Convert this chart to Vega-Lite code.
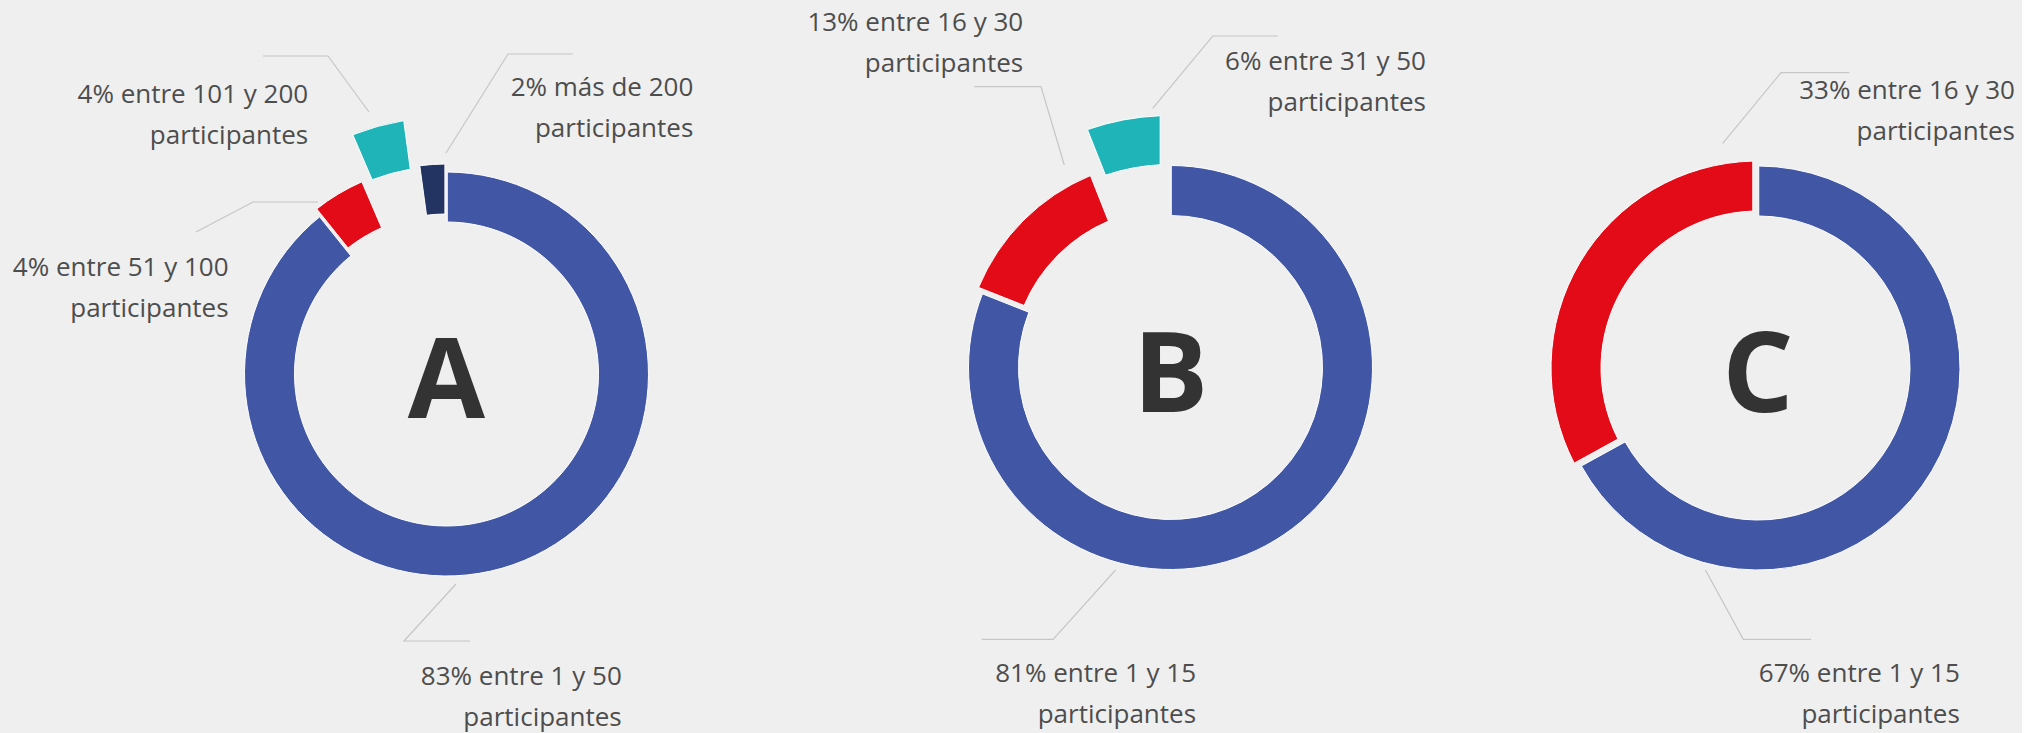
{
  "$schema": "https://vega.github.io/schema/vega-lite/v6.json",
  "background": "#efefef",
  "padding": {"left": 12, "top": 0, "right": 0, "bottom": 0},
  "spacing": 0,
  "bounds": "flush",
  "config": {"view": {"stroke": null}, "font": "Open Sans"},
  "data": {"values": [
    {"grupo": "A", "rango": "entre 1 y 50", "valor": 83, "etiqueta": "83%  entre 1 y 50\nparticipantes"},
    {"grupo": "A", "rango": "entre 51 y 100", "valor": 4, "etiqueta": "4% entre 51 y 100\nparticipantes"},
    {"grupo": "A", "rango": "entre 101 y 200", "valor": 4, "etiqueta": "4% entre 101 y 200\nparticipantes"},
    {"grupo": "A", "rango": "más de 200", "valor": 2, "etiqueta": "2% más de 200\nparticipantes"},
    {"grupo": "B", "rango": "entre 1 y 15", "valor": 81, "etiqueta": "81%  entre 1 y 15\nparticipantes"},
    {"grupo": "B", "rango": "entre 16 y 30", "valor": 13, "etiqueta": "13% entre 16 y 30\nparticipantes"},
    {"grupo": "B", "rango": "entre 31 y 50", "valor": 6, "etiqueta": "6% entre 31 y 50\nparticipantes"},
    {"grupo": "C", "rango": "entre 1 y 15", "valor": 67, "etiqueta": "67%  entre 1 y 15\nparticipantes"},
    {"grupo": "C", "rango": "entre 16 y 30", "valor": 33, "etiqueta": "33% entre 16 y 30\nparticipantes"}
  ]},
  "hconcat": [
    {
      "width": 801, "height": 748,
      "transform": [
        {"filter": "datum.grupo == 'A'"},
        {"stack": "valor", "groupby": ["grupo"], "sort": [{"field": "valor", "order": "descending"}], "as": ["t0", "t1"]}
      ],
      "layer": [
        {
          "encoding": {},
          "layer": [
            {"transform": [{"filter": "datum.rango == 'entre 1 y 50'"}], "mark": {"type": "point", "shape": "M0.095,2.1L-0.425,2.67L0.235,2.67", "size": 40000, "filled": false, "color": "#c6c6c6", "strokeWidth": 1.2, "opacity": 1}},
            {"transform": [{"filter": "datum.rango == 'entre 51 y 100'"}], "mark": {"type": "point", "shape": "M-1.285,-1.72L-1.935,-1.72L-2.505,-1.42", "size": 40000, "filled": false, "color": "#c6c6c6", "strokeWidth": 1.2, "opacity": 1}},
            {"transform": [{"filter": "datum.rango == 'entre 101 y 200'"}], "mark": {"type": "point", "shape": "M-0.775,-2.62L-1.185,-3.18L-1.835,-3.18", "size": 40000, "filled": false, "color": "#c6c6c6", "strokeWidth": 1.2, "opacity": 1}},
            {"transform": [{"filter": "datum.rango == 'más de 200'"}], "mark": {"type": "point", "shape": "M-0.005,-2.21L0.615,-3.2L1.265,-3.2", "size": 40000, "filled": false, "color": "#c6c6c6", "strokeWidth": 1.2, "opacity": 1}}
          ]
        },
        {
          "encoding": {
            "theta": {"field": "t0", "type": "quantitative", "stack": null},
            "theta2": {"field": "t1"},
            "color": {"field": "rango", "type": "nominal", "legend": null,
              "scale": {"domain": ["entre 1 y 50", "entre 51 y 100", "entre 101 y 200", "más de 200", "entre 1 y 15", "entre 16 y 30", "entre 31 y 50"],
                        "range": ["#4157a5", "#e30b17", "#1fb5b8", "#243462", "#4157a5", "#e30b17", "#1fb5b8"]}}
          },
          "layer": [
            {"transform": [{"filter": "datum.rango == 'entre 1 y 50'"}], "mark": {"type": "arc", "radius": 202, "radius2": 152, "padAngle": 0.006, "stroke": "#ffffff", "strokeWidth": 1}},
            {"transform": [{"filter": "datum.rango == 'entre 51 y 100'"}], "mark": {"type": "arc", "radius": 210, "radius2": 160, "padAngle": 0.015, "stroke": "#ffffff", "strokeWidth": 1}},
            {"transform": [{"filter": "datum.rango == 'entre 101 y 200'"}], "mark": {"type": "arc", "radius": 257, "radius2": 208, "padAngle": 0.05, "stroke": "#ffffff", "strokeWidth": 1}},
            {"transform": [{"filter": "datum.rango == 'más de 200'"}], "mark": {"type": "arc", "radius": 210, "radius2": 160, "padAngle": 0.012, "stroke": "#ffffff", "strokeWidth": 1}}
          ]
        },
        {
          "transform": [{"aggregate": [{"op": "count", "as": "n"}], "groupby": ["grupo"]}],
          "mark": {"type": "text", "fontSize": 112, "fontWeight": "bold", "color": "#333333", "align": "center", "baseline": "alphabetic", "dy": 44},
          "encoding": {"text": {"field": "grupo"}}
        },
        {
          "encoding": {
            "theta": {"field": "t1", "type": "quantitative", "stack": null},
            "text": {"field": "etiqueta"}
          },
          "layer": [
            {"transform": [{"filter": "datum.rango == 'entre 1 y 50'"}],
             "mark": {"type": "text", "align": "right", "baseline": "alphabetic", "fontSize": 26, "color": "#4d4d4d", "lineBreak": "\n", "lineHeight": 41, "radius": 357, "thetaOffset": -2.9791}},
            {"transform": [{"filter": "datum.rango == 'entre 51 y 100'"}],
             "mark": {"type": "text", "align": "right", "baseline": "alphabetic", "fontSize": 26, "color": "#4d4d4d", "lineBreak": "\n", "lineHeight": 41, "radius": 239, "thetaOffset": -0.7419}},
            {"transform": [{"filter": "datum.rango == 'entre 101 y 200'"}],
             "mark": {"type": "text", "align": "right", "baseline": "alphabetic", "fontSize": 26, "color": "#4d4d4d", "lineBreak": "\n", "lineHeight": 41, "radius": 304, "thetaOffset": -0.3372}},
            {"transform": [{"filter": "datum.rango == 'más de 200'"}],
             "mark": {"type": "text", "align": "right", "baseline": "alphabetic", "fontSize": 26, "color": "#4d4d4d", "lineBreak": "\n", "lineHeight": 41, "radius": 372, "thetaOffset": 0.7254}}
          ]
        }
      ]
    },
    {
      "width": 647, "height": 735,
      "transform": [
        {"filter": "datum.grupo == 'B'"},
        {"stack": "valor", "groupby": ["grupo"], "sort": [{"field": "valor", "order": "descending"}], "as": ["t0", "t1"]}
      ],
      "layer": [
        {
          "encoding": {},
          "layer": [
            {"transform": [{"filter": "datum.rango == 'entre 1 y 15'"}], "mark": {"type": "point", "shape": "M-0.549,2.025L-1.174,2.718L-1.888,2.718", "size": 40000, "filled": false, "color": "#c6c6c6", "strokeWidth": 1.2, "opacity": 1}},
            {"transform": [{"filter": "datum.rango == 'entre 16 y 30'"}], "mark": {"type": "point", "shape": "M-1.062,-2.025L-1.295,-2.808L-1.962,-2.808", "size": 40000, "filled": false, "color": "#c6c6c6", "strokeWidth": 1.2, "opacity": 1}},
            {"transform": [{"filter": "datum.rango == 'entre 31 y 50'"}], "mark": {"type": "point", "shape": "M-0.178,-2.592L0.422,-3.315L1.072,-3.315", "size": 40000, "filled": false, "color": "#c6c6c6", "strokeWidth": 1.2, "opacity": 1}}
          ]
        },
        {
          "encoding": {
            "theta": {"field": "t0", "type": "quantitative", "stack": null},
            "theta2": {"field": "t1"},
            "color": {"field": "rango", "type": "nominal", "legend": null,
              "scale": {"domain": ["entre 1 y 50", "entre 51 y 100", "entre 101 y 200", "más de 200", "entre 1 y 15", "entre 16 y 30", "entre 31 y 50"],
                        "range": ["#4157a5", "#e30b17", "#1fb5b8", "#243462", "#4157a5", "#e30b17", "#1fb5b8"]}}
          },
          "layer": [
            {"transform": [{"filter": "datum.rango == 'entre 1 y 15'"}], "mark": {"type": "arc", "radius": 202, "radius2": 152, "padAngle": 0.006, "stroke": "#ffffff", "strokeWidth": 1}},
            {"transform": [{"filter": "datum.rango == 'entre 16 y 30'"}], "mark": {"type": "arc", "radius": 208, "radius2": 159, "padAngle": 0.029, "stroke": "#ffffff", "strokeWidth": 1}},
            {"transform": [{"filter": "datum.rango == 'entre 31 y 50'"}], "mark": {"type": "arc", "radius": 252, "radius2": 203, "padAngle": 0.064, "stroke": "#ffffff", "strokeWidth": 1}}
          ]
        },
        {
          "transform": [{"aggregate": [{"op": "count", "as": "n"}], "groupby": ["grupo"]}],
          "mark": {"type": "text", "fontSize": 112, "fontWeight": "bold", "color": "#333333", "align": "center", "baseline": "alphabetic", "dy": 44},
          "encoding": {"text": {"field": "grupo"}}
        },
        {
          "encoding": {
            "theta": {"field": "t1", "type": "quantitative", "stack": null},
            "text": {"field": "etiqueta"}
          },
          "layer": [
            {"transform": [{"filter": "datum.rango == 'entre 1 y 15'"}],
             "mark": {"type": "text", "align": "right", "baseline": "alphabetic", "fontSize": 26, "color": "#4d4d4d", "lineBreak": "\n", "lineHeight": 41, "radius": 316, "thetaOffset": -2.0288}},
            {"transform": [{"filter": "datum.rango == 'entre 16 y 30'"}],
             "mark": {"type": "text", "align": "right", "baseline": "alphabetic", "fontSize": 26, "color": "#4d4d4d", "lineBreak": "\n", "lineHeight": 41, "radius": 367, "thetaOffset": -0.0361}},
            {"transform": [{"filter": "datum.rango == 'entre 31 y 50'"}],
             "mark": {"type": "text", "align": "right", "baseline": "alphabetic", "fontSize": 26, "color": "#4d4d4d", "lineBreak": "\n", "lineHeight": 41, "radius": 392, "thetaOffset": 0.7097}}
          ]
        }
      ]
    },
    {
      "width": 528, "height": 736,
      "transform": [
        {"filter": "datum.grupo == 'C'"},
        {"stack": "valor", "groupby": ["grupo"], "sort": [{"field": "valor", "order": "descending"}], "as": ["t0", "t1"]}
      ],
      "layer": [
        {
          "encoding": {},
          "layer": [
            {"transform": [{"filter": "datum.rango == 'entre 1 y 15'"}], "mark": {"type": "point", "shape": "M-0.526,2.02L-0.147,2.713L0.532,2.713", "size": 40000, "filled": false, "color": "#c6c6c6", "strokeWidth": 1.2, "opacity": 1}},
            {"transform": [{"filter": "datum.rango == 'entre 16 y 30'"}], "mark": {"type": "point", "shape": "M-0.353,-2.247L0.23,-2.953L0.913,-2.953", "size": 40000, "filled": false, "color": "#c6c6c6", "strokeWidth": 1.2, "opacity": 1}}
          ]
        },
        {
          "encoding": {
            "theta": {"field": "t0", "type": "quantitative", "stack": null},
            "theta2": {"field": "t1"},
            "color": {"field": "rango", "type": "nominal", "legend": null,
              "scale": {"domain": ["entre 1 y 50", "entre 51 y 100", "entre 101 y 200", "más de 200", "entre 1 y 15", "entre 16 y 30", "entre 31 y 50"],
                        "range": ["#4157a5", "#e30b17", "#1fb5b8", "#243462", "#4157a5", "#e30b17", "#1fb5b8"]}}
          },
          "layer": [
            {"transform": [{"filter": "datum.rango == 'entre 1 y 15'"}], "mark": {"type": "arc", "radius": 202, "radius2": 152, "padAngle": 0.006, "stroke": "#ffffff", "strokeWidth": 1}},
            {"transform": [{"filter": "datum.rango == 'entre 16 y 30'"}], "mark": {"type": "arc", "radius": 207, "radius2": 157, "padAngle": 0.04, "stroke": "#ffffff", "strokeWidth": 1}}
          ]
        },
        {
          "transform": [{"aggregate": [{"op": "count", "as": "n"}], "groupby": ["grupo"]}],
          "mark": {"type": "text", "fontSize": 112, "fontWeight": "bold", "color": "#333333", "align": "center", "baseline": "alphabetic", "dy": 44},
          "encoding": {"text": {"field": "grupo"}}
        },
        {
          "encoding": {
            "theta": {"field": "t1", "type": "quantitative", "stack": null},
            "text": {"field": "etiqueta"}
          },
          "layer": [
            {"transform": [{"filter": "datum.rango == 'entre 1 y 15'"}],
             "mark": {"type": "text", "align": "right", "baseline": "alphabetic", "fontSize": 26, "color": "#4d4d4d", "lineBreak": "\n", "lineHeight": 41, "radius": 373, "thetaOffset": -1.6397}},
            {"transform": [{"filter": "datum.rango == 'entre 16 y 30'"}],
             "mark": {"type": "text", "align": "right", "baseline": "alphabetic", "fontSize": 26, "color": "#4d4d4d", "lineBreak": "\n", "lineHeight": 41, "radius": 372, "thetaOffset": 0.7625}}
          ]
        }
      ]
    }
  ]
}
